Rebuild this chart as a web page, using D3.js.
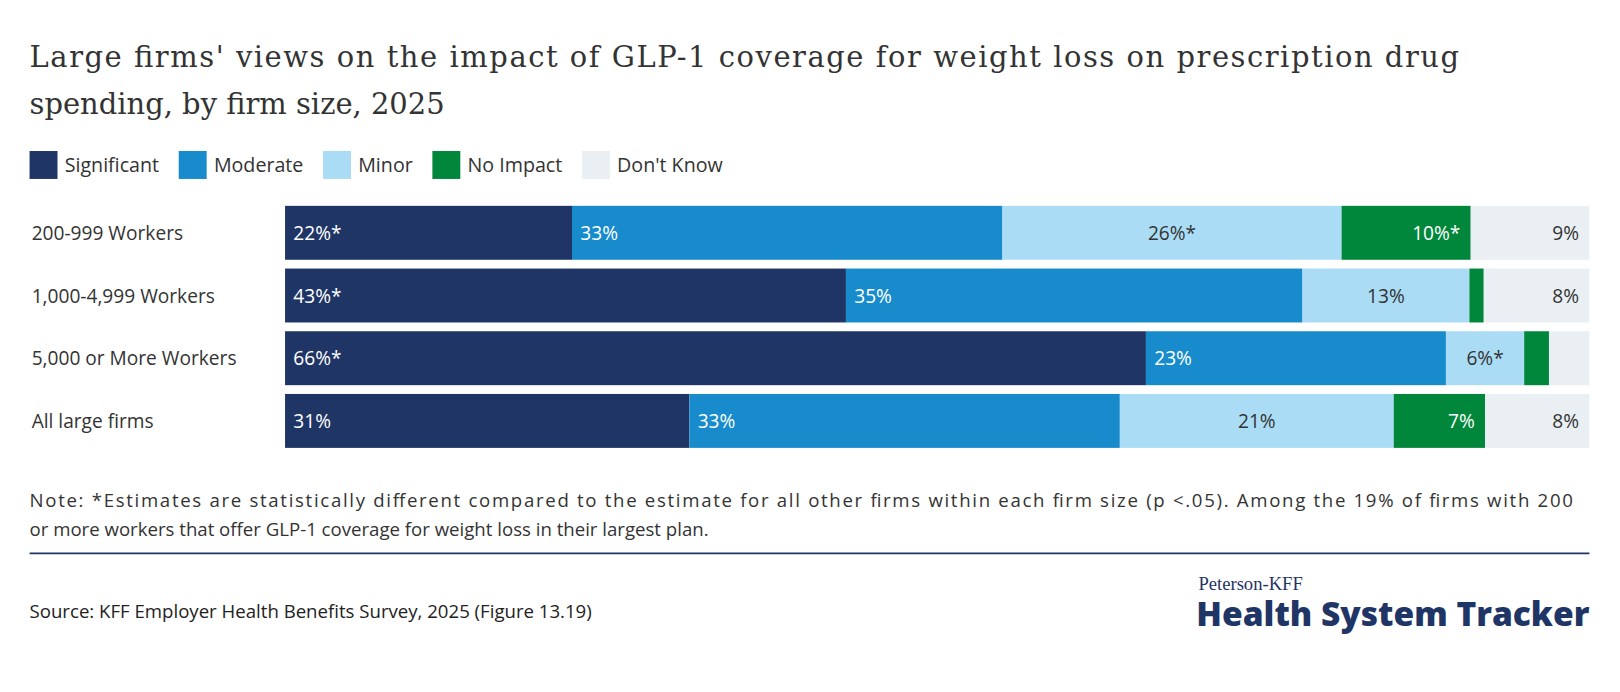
<!DOCTYPE html>
<html><head><meta charset="utf-8">
<script src="https://cdn.jsdelivr.net/npm/d3@7/dist/d3.min.js"></script>
<style>body{margin:0;background:#fff;font-family:"Open Sans",sans-serif}</style>
</head><body><svg id="c" width="1620" height="692" viewBox="0 0 1565 669"></svg>
<script>
const categories=["200-999 Workers","1,000-4,999 Workers","5,000 or More Workers","All large firms"];
const seriesNames=["Significant","Moderate","Minor","No Impact","Don't Know"];
const colors=["#1f3566","#178bcc","#aadcf6","#00873c","#e9eff2"];
const significant=[22,43,66,31];
const moderate=[33,35,23,33];
const minor=[26,12.8,6,21];
const noImpact=[9.9,1.1,1.9,7];
const dontKnow=[9.1,8.1,3.1,8];
const labels=[["22%*","33%","26%*","10%*","9%"],["43%*","35%","13%","","8%"],["66%*","23%","6%*","",""],["31%","33%","21%","7%","8%"]];
const series=[significant,moderate,minor,noImpact,dontKnow];
const svg=d3.select("#c");
const serif="DejaVu Serif, serif";
svg.append("text").attr("x",28).attr("y",65).attr("font-family",serif).attr("font-size",28).attr("fill","#333").attr("textLength",1382).text("Large firms' views on the impact of GLP-1 coverage for weight loss on prescription drug");
svg.append("text").attr("x",28).attr("y",110).attr("font-family",serif).attr("font-size",28).attr("fill","#333").text("spending, by firm size, 2025");
let lx=28;
seriesNames.forEach((n,i)=>{
  svg.append("rect").attr("x",lx).attr("y",146).attr("width",27).attr("height",27).attr("fill",colors[i]);
  const t=svg.append("text").attr("x",lx+34).attr("y",166).attr("font-size",19).attr("fill","#333").text(n);
  lx+=34+t.node().getComputedTextLength()+19;
});
const x=d3.scaleLinear().domain([0,100]).range([275,1536]);
const y=d3.scaleBand().domain(categories).range([199,433]).paddingInner(0.14);
categories.forEach((c,r)=>{
  svg.append("text").attr("x",30).attr("y",y(c)+y.bandwidth()/2+7).attr("font-size",18.5).attr("fill","#333").text(c);
  let acc=0;
  series.forEach((s,i)=>{
    const v=s[r],x0=x(acc),x1=x(acc+v);acc+=v;
    svg.append("rect").attr("x",x0).attr("y",y(c)).attr("width",x1-x0).attr("height",y.bandwidth()).attr("fill",colors[i]);
    const L=labels[r][i]; if(!L) return;
    let tx,anchor;
    if(i<2){tx=x0+8;anchor="start";}
    else if(i==2){tx=(x0+x1)/2;anchor="middle";}
    else {tx=x1-10;anchor="end";}
    svg.append("text").attr("x",tx).attr("y",y(c)+y.bandwidth()/2+7).attr("text-anchor",anchor).attr("font-size",18.5)
      .attr("fill",(i==2||i==4)?"#333":"#fff").text(L);
  });
});
svg.append("text").attr("x",28).attr("y",490).attr("font-size",18).attr("fill","#333").attr("textLength",1492).text("Note: *Estimates are statistically different compared to the estimate for all other firms within each firm size (p <.05). Among the 19% of firms with 200");
svg.append("text").attr("x",28).attr("y",518).attr("font-size",18).attr("fill","#333").text("or more workers that offer GLP-1 coverage for weight loss in their largest plan.");
svg.append("line").attr("x1",28).attr("x2",1536).attr("y1",535).attr("y2",535).attr("stroke","#1f3566").attr("stroke-width",1.5);
svg.append("text").attr("x",28).attr("y",597).attr("font-size",18).attr("fill","#222").text("Source: KFF Employer Health Benefits Survey, 2025 (Figure 13.19)");
svg.append("text").attr("x",1158).attr("y",570).attr("font-family","Liberation Serif, serif").attr("font-size",18).attr("fill","#1f3566").text("Peterson-KFF");
svg.append("text").attr("x",1156).attr("y",605).attr("font-size",32).attr("font-weight",800).attr("fill","#1f3566").attr("textLength",380).attr("lengthAdjust","spacingAndGlyphs").text("Health System Tracker");
</script></body></html>
